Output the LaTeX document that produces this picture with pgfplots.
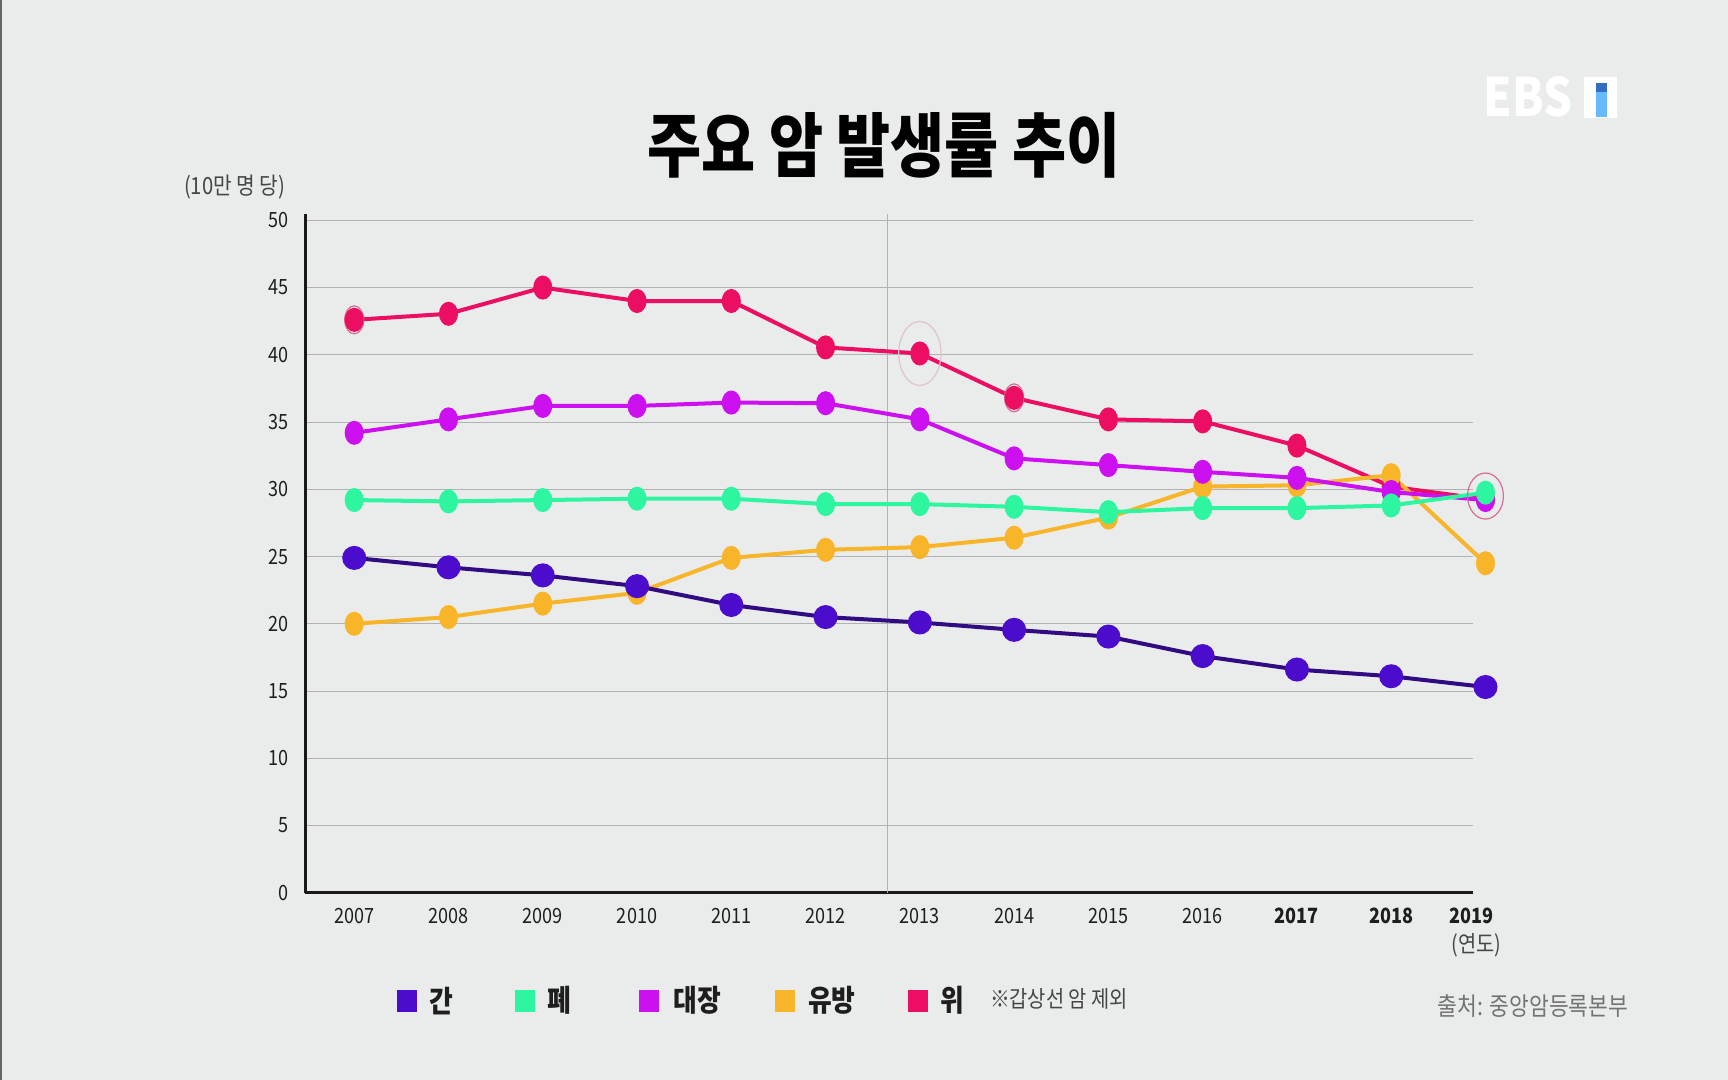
\documentclass[border=0pt]{standalone}
\usepackage{pgfplots}
\pgfplotsset{compat=1.18}
\usepackage{fontspec}
\newfontfamily\kr[FakeStretch=0.86]{Noto Sans CJK KR}
\newfontfamily\krtitle[FakeStretch=0.84]{Noto Sans CJK KR}
\definecolor{bg}{RGB}{233,236,235}
\definecolor{cgan}{RGB}{75,12,205}
\definecolor{cganline}{RGB}{50,10,130}
\definecolor{cpye}{RGB}{46,245,160}
\definecolor{cdae}{RGB}{204,16,240}
\definecolor{cyu}{RGB}{248,181,42}
\definecolor{cwi}{RGB}{236,14,98}
\definecolor{ring}{RGB}{215,110,150}
\definecolor{ringlight}{RGB}{225,195,205}
\definecolor{txt}{RGB}{30,30,30}
\definecolor{lbl}{RGB}{70,70,70}
\pgfplotsset{ser/.style={line width=2pt, mark=*, mark size=5pt, mark options={xscale=0.75, solid}}}
\begin{document}
\begin{tikzpicture}[x=1pt,y=1pt]
\fill[bg] (0,0) rectangle (864,540);
\fill[black!60] (0,0) rectangle (1.2,540);
% title
\node[font=\krtitle\bfseries\fontsize{35}{40}\selectfont, text=black] at (442,467.3) {주요 암 발생률 추이};
% EBS logo
\node[font=\kr\bfseries\fontsize{26.5}{30}\selectfont, text=white] at (764,491.5) {EBS};
\fill[white] (791.8,481) rectangle (808.3,501.4);
\fill[blue!45!cyan!60!white] (797.8,481.5) rectangle (803.4,498.5);
\fill[blue!60!cyan!70!black!80] (797.8,494) rectangle (803.4,498.5);
% y unit label
\node[font=\kr\fontsize{11.8}{13}\selectfont, text=lbl] at (117.4,446.3) {(10만 명 당)};
\begin{axis}[
  at={(152.6pt,93.6pt)}, anchor=south west, scale only axis,
  width=584pt, height=339.6pt,
  xmin=2006.48, xmax=2018.87, ymin=0, ymax=50.5,
  clip=false,
  axis x line=bottom, axis y line=left,
  axis line style={-, line width=1.6pt, black!90},
  ytick={0,5,...,50},
  xtick={2007,2008,2009,2010,2011,2012,2013,2014,2015,2016,2017,2018,2018.85},
  xticklabels={2007,2008,2009,2010,2011,2012,2013,2014,2015,2016,\textbf{2017},\textbf{2018},\textbf{2019}},
  major tick length=0pt,
  ymajorgrids, grid style={black!30, line width=0.5pt},
  /pgf/number format/assume math mode=true,
  tick label style={font=\kr\fontsize{10.5}{12}\selectfont, text=txt},
  yticklabel style={xshift=-5pt},
  xticklabel style={yshift=-4pt},
]
\draw[black!30, line width=0.5pt] (axis cs:2012.66,0) -- (axis cs:2012.66,50.5);
% highlight rings (behind)
\addplot[only marks, mark=o, mark size=16pt, mark options={xscale=0.66, draw=ringlight, line width=0.6pt}] coordinates {(2013,40.1)};
\addplot[only marks, mark=o, mark size=7pt, mark options={xscale=0.68, draw=ring, line width=0.6pt}] coordinates {(2007,42.6) (2014,36.8)};
% 위
\addplot[ser, color=cwi] coordinates {(2007,42.6) (2008,43.05) (2009,45.0) (2010,44.0) (2011,44.0) (2012,40.55) (2013,40.1) (2014,36.8) (2015,35.2) (2016,35.05) (2017,33.25) (2018,30.2) (2019,29.25)};
% 유방
\addplot[ser, color=cyu] coordinates {(2007,20.0) (2008,20.5) (2009,21.5) (2010,22.3) (2011,24.9) (2012,25.5) (2013,25.7) (2014,26.4) (2015,27.9) (2016,30.2) (2017,30.3) (2018,31.05) (2019,24.5)};
% 대장
\addplot[ser, color=cdae] coordinates {(2007,34.2) (2008,35.2) (2009,36.2) (2010,36.2) (2011,36.45) (2012,36.4) (2013,35.2) (2014,32.3) (2015,31.8) (2016,31.3) (2017,30.85) (2018,29.8) (2019,29.2)};
% 폐
\addplot[ser, color=cpye] coordinates {(2007,29.2) (2008,29.1) (2009,29.2) (2010,29.3) (2011,29.3) (2012,28.9) (2013,28.9) (2014,28.7) (2015,28.3) (2016,28.6) (2017,28.6) (2018,28.8) (2019,29.75)};
% 간
\addplot[ser, color=cganline, mark options={fill=cgan, draw=cgan}] coordinates {(2007,24.9) (2008,24.2) (2009,23.6) (2010,22.8) (2011,21.4) (2012,20.5) (2013,20.1) (2014,19.55) (2015,19.05) (2016,17.6) (2017,16.6) (2018,16.1) (2019,15.3)};
\addplot[only marks, mark=o, mark size=11.5pt, mark options={xscale=0.78, draw=ring, line width=0.6pt}] coordinates {(2019,29.5)};
\end{axis}
% x unit label
\node[font=\kr\fontsize{11.5}{13}\selectfont, text=lbl] at (738.3,67.2) {(연도)};
% legend
\tikzset{lsq/.style={minimum width=10pt, minimum height=11pt, inner sep=0pt}}
\tikzset{ltx/.style={anchor=west, inner sep=0pt, font=\kr\bfseries\fontsize{15}{18}\selectfont, text=txt}}
\node[lsq, fill=cgan] at (203.3,39.7) {};
\node[ltx] at (214.3,39.7) {간};
\node[lsq, fill=cpye] at (262.3,39.7) {};
\node[ltx] at (273.3,39.7) {폐};
\node[lsq, fill=cdae] at (324.5,39.7) {};
\node[ltx] at (336.7,39.7) {대장};
\node[lsq, fill=cyu] at (392.3,39.7) {};
\node[ltx] at (403.9,39.7) {유방};
\node[lsq, fill=cwi] at (459.0,39.7) {};
\node[ltx] at (470.0,39.7) {위};
\node[anchor=west, inner sep=0pt, font=\kr\fontsize{11.5}{13}\selectfont, text=lbl] at (494.8,40.5) {※갑상선 암 제외};
% source
\node[font=\kr\fontsize{12.5}{14}\selectfont, text=black!55] at (766.5,37) {출처: 중앙암등록본부};
\end{tikzpicture}
\end{document}
